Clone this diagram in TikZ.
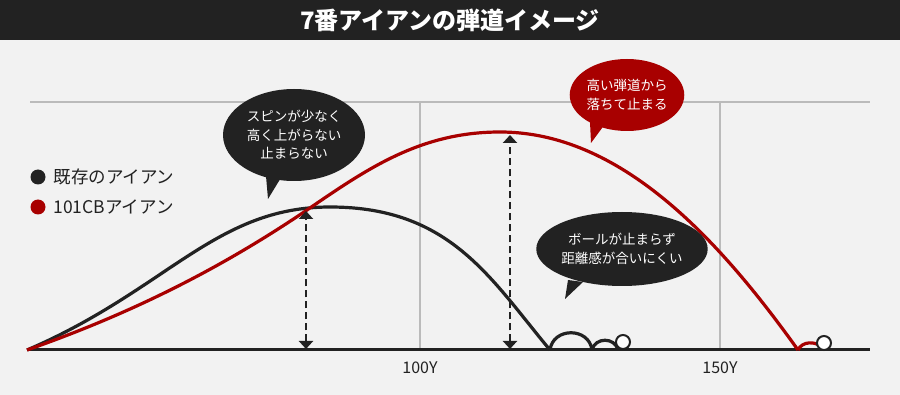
\documentclass[tikz,border=0pt]{standalone}
\usepackage{fontspec}
\newfontfamily\jp{Noto Sans CJK JP}
\usetikzlibrary{shapes.geometric,arrows.meta}
\definecolor{bgc}{HTML}{F2F2F2}
\definecolor{dk}{HTML}{222222}
\definecolor{rd}{HTML}{A80000}
\definecolor{grc}{HTML}{BBBBBB}
\begin{document}
\begin{tikzpicture}[x=1pt,y=-1pt,
  gridline/.style={draw=grc,line width=2pt},
  axisline/.style={draw=dk,line width=3pt},
  blackcurve/.style={draw=dk,line width=3.2pt,line join=round},
  redcurve/.style={draw=rd,line width=3.2pt,line join=round},
  measure/.style={draw=dk,line width=2.4pt,dash pattern=on 7pt off 4pt,
    {Triangle[width=14pt,length=8pt]}-{Triangle[width=14pt,length=8pt]}},
  bubble/.style={ellipse,inner sep=0pt,text=white,align=center,
    font=\jp\fontsize{13.5}{18.5}\selectfont},
  ball/.style={circle,draw=dk,fill=white,line width=2pt,minimum size=14pt,inner sep=0pt},
  legdot/.style={circle,minimum size=15pt,inner sep=0pt},
  legtext/.style={anchor=west,text=dk,font=\jp\fontsize{17.5}{19}\selectfont},
  axlabel/.style={text=dk,font=\jp\fontsize{16}{18}\selectfont}]
\useasboundingbox (0,0) rectangle (900,395);
\fill[bgc] (0,0) rectangle (900,395);
\fill[dk] (0,0) rectangle (900,40);
\node[text=white,font=\jp\bfseries\fontsize{24}{24}\selectfont] (title) at (450,20) {7番アイアンの弾道イメージ};

% grid
\coordinate (gl) at (30,102);
\coordinate (gr) at (870,102);
\coordinate (v1t) at (420,102);
\coordinate (v1b) at (420,350);
\coordinate (v2t) at (720,102);
\coordinate (v2b) at (720,350);
\draw[gridline] (gl) -- (gr);
\draw[gridline] (v1t) -- (v1b);
\draw[gridline] (v2t) -- (v2b);
\coordinate (al) at (27,350);
\coordinate (ar) at (870,350);
\draw[axisline] (al) -- (ar);
\node[axlabel] (l100) at (420,368) {100Y};
\node[axlabel] (l150) at (720,368) {150Y};

% legend
\node[legdot,fill=dk] (d1) at (38,177) {};
\node[legtext] (t1) at (50,177) {既存のアイアン};
\node[legdot,fill=rd] (d2) at (38,207) {};
\node[legtext] (t2) at (50,207) {101CBアイアン};

% black trajectory
\draw[blackcurve] (27,350) .. controls (167,290) and (215,207) .. (330,207)
  .. controls (450,207) and (490,278) .. (550,350);
\draw[blackcurve] (550,350) .. controls (553,327) and (589,327) .. (592,350);
\draw[blackcurve] (592,350) .. controls (595,337) and (615,337) .. (618,350);
\node[ball] (bb) at (623,342) {};

% red trajectory
\draw[redcurve] (27,350) .. controls (127,315) and (217,271) .. (307,210)
  .. controls (367,169) and (420,132) .. (500,132)
  .. controls (620,132) and (718,238) .. (798,350);
\draw[redcurve] (798,350) .. controls (802,341) and (816,341) .. (821,347);
\node[ball] (rb) at (824,343) {};

% measurement arrows
\coordinate (m1t) at (306,211);
\coordinate (m1b) at (306,349);
\coordinate (m2t) at (510,135);
\coordinate (m2b) at (510,349);
\draw[measure] (m1b) -- (m1t);
\draw[measure] (m2b) -- (m2t);

% bubbles
\coordinate (b1a) at (266,176);
\coordinate (b1tip) at (268,199);
\coordinate (b1b) at (282,176);
\fill[dk] (b1a) -- (b1tip) -- (b1b) -- cycle;
\node[bubble,fill=dk,minimum width=142pt,minimum height=92pt] (b1) at (294,135) {スピンが少なく\\高く上がらない\\止まらない};

\coordinate (b2a) at (590,122);
\coordinate (b2tip) at (591,143);
\coordinate (b2b) at (605,124);
\fill[rd] (b2a) -- (b2tip) -- (b2b) -- cycle;
\node[bubble,fill=rd,minimum width=112pt,minimum height=72pt] (b2) at (627,95) {高い弾道から\\落ちて止まる};

\coordinate (b3a) at (568,280);
\coordinate (b3tip) at (565,299);
\coordinate (b3b) at (583,282);
\fill[dk] (b3a) -- (b3tip) -- (b3b) -- cycle;
\node[bubble,fill=dk,minimum width=145pt,minimum height=74pt] (b3) at (622,249) {ボールが止まらず\\距離感が合いにくい};
\end{tikzpicture}
\end{document}
